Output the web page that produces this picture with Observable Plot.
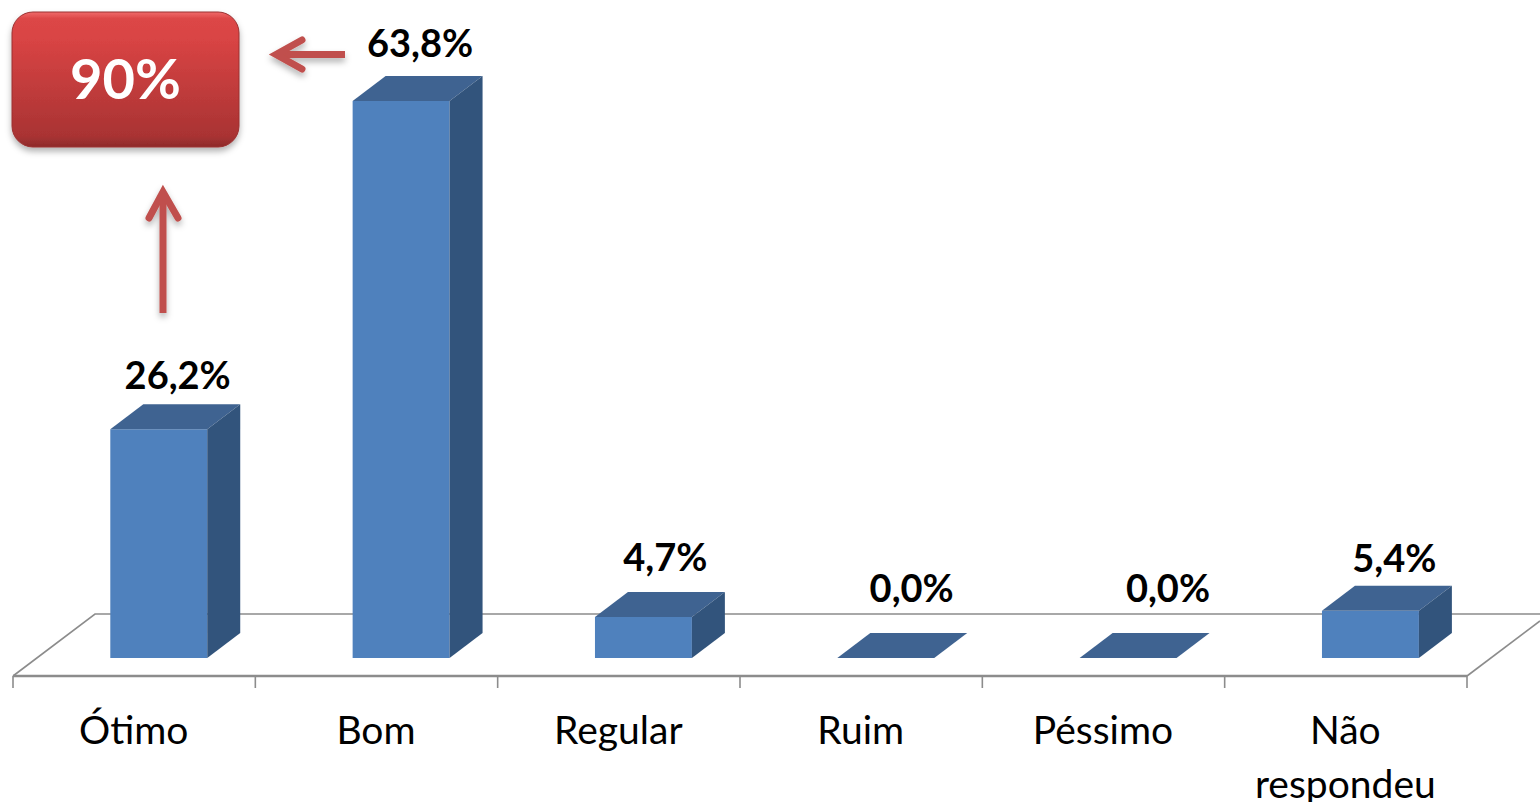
<!DOCTYPE html>
<html><head><meta charset="utf-8">
<script src="https://cdn.jsdelivr.net/npm/d3@7"></script>
<script src="https://cdn.jsdelivr.net/npm/@observablehq/plot@0.6"></script>
<style>html,body{margin:0;padding:0;background:#fff;overflow:hidden}svg{display:block}</style>
</head><body><div id="chart"></div>
<script>
const categories = ["Ótimo","Bom","Regular","Ruim","Péssimo","Não\nrespondeu"];
const values = [26.2,63.8,4.7,0.0,0.0,5.4];
const valueLabels = ["26,2%","63,8%","4,7%","0,0%","0,0%","5,4%"];
const labelDx = [43,43,46,50,64,48];
const labelDy = [-53,-57,-59,-69,-69,-52];
const totalLabel = "90%";
const rows = categories.map((c,i)=>({c,v:values[i],label:valueLabels[i],dx:labelDx[i],dy:labelDy[i]}));

const barShift = 24.6, depthX = 33, depthY = -25;
const NS = "http://www.w3.org/2000/svg";
const el = (n,a,p)=>{const e=document.createElementNS(NS,n);for(const k in a)e.setAttribute(k,a[k]);if(p)p.appendChild(e);return e;};

const floor = (i,s)=>{
  const g = el("g",{fill:"none",stroke:"#8c8c8c"});
  const step = s.x.step(), x0 = s.x.range()[0], x1 = s.x.range()[1];
  const front = 676, back = 614, tick = 688;
  el("path",{d:`M${x0},${front}L${x0+82},${back}H1540`,"stroke-width":1.6},g);
  el("path",{d:`M${x1},${front}L1540,${front-55}`,"stroke-width":1.6},g);
  el("path",{d:`M${x0},${front}H${x1}`,"stroke-width":2.6},g);
  for(let k=0;k<=categories.length;k++) el("path",{d:`M${x0+k*step},${front}V${tick}`,"stroke-width":1.6},g);
  return g;
};
const faces = (i,s)=>{
  const g = el("g",{});
  const w = s.x.bandwidth(), y0 = s.y(0);
  rows.forEach(r=>{
    const x = s.x(r.c)+barShift, y = s.y(r.v);
    el("path",{fill:"#3f6391",d:`M${x},${y}l${depthX},${depthY}h${w}l${-depthX},${-depthY}z`},g);
    if(y0>y) el("path",{fill:"#32547c",d:`M${x+w},${y}l${depthX},${depthY}V${y0+depthY}l${-depthX},${-depthY}z`},g);
  });
  return g;
};
const callout = ()=>{
  const g = el("g",{});
  const defs = el("defs",{},g);
  const lg = el("linearGradient",{id:"boxFill",x1:0,y1:0,x2:0,y2:1},defs);
  [[0,"#f06a6a"],[0.05,"#dc4646"],[0.2,"#d94444"],[0.92,"#a93333"],[1,"#8e2a2a"]].forEach(([o,c])=>el("stop",{offset:o,"stop-color":c},lg));
  const f = el("filter",{id:"soft",x:"-20%",y:"-20%",width:"140%",height:"150%"},defs);
  el("feDropShadow",{dx:0,dy:4,stdDeviation:3,"flood-color":"#000","flood-opacity":0.3},f);
  el("rect",{x:12,y:12,width:227,height:135,rx:21,fill:"url(#boxFill)",stroke:"#9a3030","stroke-width":1,filter:"url(#soft)"},g);
  const a = el("g",{fill:"none",stroke:"#c0504d","stroke-width":7,"stroke-linejoin":"miter",filter:"url(#soft)"},g);
  el("path",{d:"M345,54.5H276"},a);
  el("path",{d:"M302,40L276,54.5L302,69","stroke-linecap":"round"},a);
  el("path",{d:"M163,313V192"},a);
  el("path",{d:"M149,218L163,192L178,218","stroke-linecap":"round"},a);
  return g;
};

const chart = Plot.plot({
  width:1540, height:802,
  marginTop:0, marginRight:0, marginLeft:0, marginBottom:126,
  style:{background:"#fff",fontFamily:"Lato, sans-serif"},
  x:{type:"band",domain:categories,range:[13,1467],paddingInner:0.6,paddingOuter:0.3,align:0.5,round:false,label:null},
  y:{domain:[0,63.8],range:[658,101],axis:null},
  marks:[
    floor,
    Plot.barY(rows,{x:"c",y:"v",dx:barShift,fill:"#4f81bd"}),
    faces,
    Plot.axisX({anchor:"bottom",tickSize:0,tickPadding:29,fontSize:39,lineHeight:1.385,label:null,textAnchor:"middle",lineAnchor:"top",fill:"#000",dx:-1}),
    ...rows.map(r=>Plot.text([r],{x:"c",y:"v",text:"label",dx:r.dx,dy:r.dy,fontSize:38,fontWeight:700,fill:"#000"})),
    callout,
    Plot.text([totalLabel],{frameAnchor:"top-left",dx:125,dy:81,fontSize:56,fontWeight:700,fill:"#fff",lineAnchor:"middle",textAnchor:"middle"})
  ]
});
document.getElementById("chart").appendChild(chart);
</script></body></html>
